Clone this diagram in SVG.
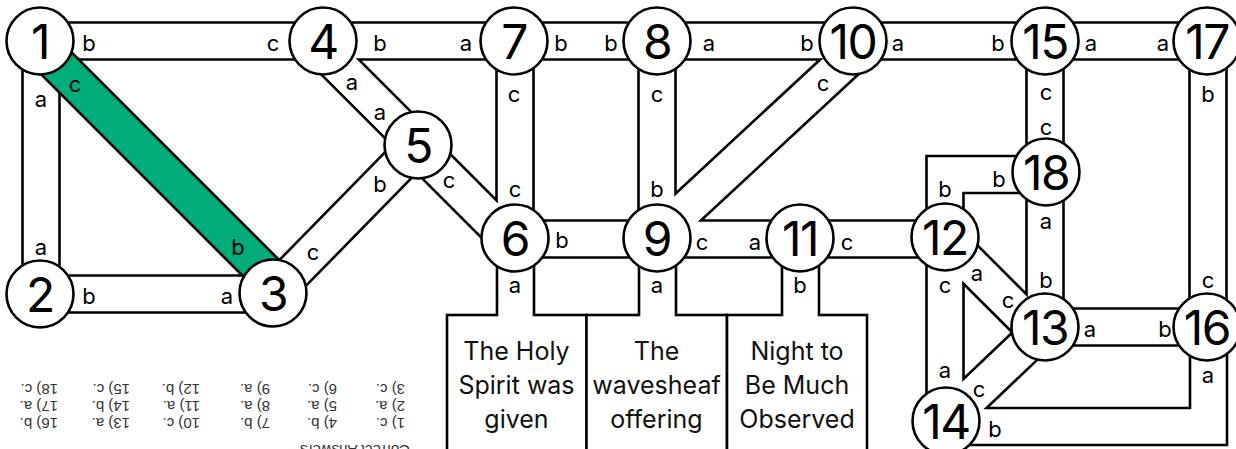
<svg xmlns="http://www.w3.org/2000/svg" width="1236" height="449" viewBox="0 0 1236 449">
<style>
.bo{fill:none;stroke:#000;stroke-width:39.6;stroke-linejoin:miter;stroke-linecap:butt}
.bi{fill:none;stroke:#fff;stroke-width:34.4;stroke-linejoin:miter;stroke-linecap:butt}
.bg{fill:none;stroke:#00ad79;stroke-width:34.4;stroke-linecap:butt}
.nc{fill:#fff;stroke:#000;stroke-width:2.6}
.nt{font-family:Inter,"Liberation Sans",sans-serif;font-size:48px;fill:#000;text-anchor:middle;letter-spacing:-1.5px}
.lb{font-family:Inter,"Liberation Sans",sans-serif;font-size:22px;fill:#000;text-anchor:middle}
.bx{fill:#fff;stroke:#000;stroke-width:2.6}
.bt{font-family:Inter,"Liberation Sans",sans-serif;font-size:25px;fill:#111;text-anchor:middle}
.ak{font-family:"Liberation Sans",Arial,sans-serif;font-size:15px;fill:#333}
</style>
<rect width="1236" height="449" fill="#fff"/>

<g id="answer-key" transform="rotate(180 216 410)">
<text class="ak" x="22" y="375">Correct Answers</text>
<text class="ak" x="27" y="402">1) c.</text><text class="ak" x="95" y="402">4) b.</text><text class="ak" x="162" y="402">7) b.</text><text class="ak" x="232" y="402">10) c.</text><text class="ak" x="302" y="402">13) a.</text><text class="ak" x="374" y="402">16) b.</text>
<text class="ak" x="27" y="419">2) a.</text><text class="ak" x="95" y="419">5) a.</text><text class="ak" x="162" y="419">8) a.</text><text class="ak" x="232" y="419">11) a.</text><text class="ak" x="302" y="419">14) b.</text><text class="ak" x="374" y="419">17) a.</text>
<text class="ak" x="27" y="436">3) c.</text><text class="ak" x="95" y="436">6) c.</text><text class="ak" x="162" y="436">9) a.</text><text class="ak" x="232" y="436">12) b.</text><text class="ak" x="302" y="436">15) c.</text><text class="ak" x="374" y="436">18) c.</text>
</g>

<g id="box-holy-spirit"><rect class="bx" x="447" y="315" width="139.5" height="150"/>
<text class="bt" x="516.5" y="360">The Holy</text><text class="bt" x="516.5" y="394">Spirit was</text><text class="bt" x="516.5" y="428">given</text></g>
<g id="box-wavesheaf"><rect class="bx" x="586.5" y="315" width="140.5" height="150"/>
<text class="bt" x="656.5" y="360">The</text><text class="bt" x="656.5" y="394">wavesheaf</text><text class="bt" x="656.5" y="428">offering</text></g>
<g id="box-night"><rect class="bx" x="727" y="315" width="140" height="150"/>
<text class="bt" x="797" y="360">Night to</text><text class="bt" x="797" y="394">Be Much</text><text class="bt" x="797" y="428">Observed</text></g>

<g id="connectors">
<defs>
<path id="e" d="M40 41H1207M41 41V294M40 294H273M273 293L418 145M316 43L418 145M417 147L509 239M515 41V239M657 41V239M515 239H945M657 236L850 57M1045 41V327M945 239V174.5H1046M945 239V421M945 239L1036 330M1045 327L946 421M1045 327H1207M1208 41V327M946 426.5H1208.5V327"/>
<path id="s" d="M515.5 239V316M657.5 239V316M800.5 239V316"/>
<path id="si" d="M515.5 239V318M657.5 239V318M800.5 239V318"/>
<path id="g" d="M38 45L272 279"/>
</defs>
<use href="#e" class="bo"/><use href="#s" class="bo"/>
<use href="#e" class="bi"/><use href="#si" class="bi"/>
<use href="#g" class="bo"/><use href="#g" class="bg"/>
<g id="edge-labels">
<text class="lb" x="89" y="51">b</text><text class="lb" x="273" y="51">c</text>
<text class="lb" x="380" y="51">b</text><text class="lb" x="466" y="51">a</text>
<text class="lb" x="561" y="51">b</text><text class="lb" x="611" y="51">b</text>
<text class="lb" x="709" y="51">a</text><text class="lb" x="807" y="51">b</text>
<text class="lb" x="898" y="51">a</text><text class="lb" x="998" y="51">b</text>
<text class="lb" x="1091" y="51">a</text><text class="lb" x="1163" y="51">a</text>
<text class="lb" x="41" y="107">a</text><text class="lb" x="41" y="255">a</text>
<text class="lb" x="75" y="92">c</text><text class="lb" x="238" y="255">b</text>
<text class="lb" x="89" y="304">b</text><text class="lb" x="227" y="304">a</text>
<text class="lb" x="313" y="260">c</text><text class="lb" x="380" y="192">b</text>
<text class="lb" x="352" y="90">a</text><text class="lb" x="380" y="120">a</text>
<text class="lb" x="449" y="188">c</text>
<text class="lb" x="514" y="102">c</text><text class="lb" x="515" y="197">c</text>
<text class="lb" x="657" y="102">c</text><text class="lb" x="657" y="197">b</text>
<text class="lb" x="562" y="248">b</text>
<text class="lb" x="702" y="250">c</text><text class="lb" x="755" y="250">a</text>
<text class="lb" x="847" y="250">c</text>
<text class="lb" x="823" y="91">c</text>
<text class="lb" x="515" y="293">a</text><text class="lb" x="657" y="293">a</text><text class="lb" x="800" y="293">b</text>
<text class="lb" x="1046" y="100">c</text><text class="lb" x="1046" y="135">c</text>
<text class="lb" x="1046" y="229">a</text><text class="lb" x="1046" y="288">b</text>
<text class="lb" x="1208" y="102">b</text><text class="lb" x="1208" y="288">c</text>
<text class="lb" x="945" y="197">b</text><text class="lb" x="999" y="187">b</text>
<text class="lb" x="945" y="293">c</text><text class="lb" x="945" y="378">a</text>
<text class="lb" x="977" y="281">a</text><text class="lb" x="1008" y="308">c</text>
<text class="lb" x="979" y="397">c</text>
<text class="lb" x="1090" y="337">a</text><text class="lb" x="1165" y="337">b</text>
<text class="lb" x="1208" y="383">a</text><text class="lb" x="995" y="437">b</text>
</g>
</g>

<g id="node-1"><circle class="nc" cx="40" cy="41" r="33.5"/><text class="nt" x="40" y="59">1</text></g>
<g id="node-2"><circle class="nc" cx="40" cy="294" r="33.5"/><text class="nt" x="40" y="312">2</text></g>
<g id="node-3"><circle class="nc" cx="273" cy="293" r="33.5"/><text class="nt" x="273" y="311">3</text></g>
<g id="node-4"><circle class="nc" cx="323" cy="41" r="33.5"/><text class="nt" x="323" y="59">4</text></g>
<g id="node-5"><circle class="nc" cx="418" cy="145" r="33.5"/><text class="nt" x="418" y="163">5</text></g>
<g id="node-6"><circle class="nc" cx="515" cy="238" r="33.5"/><text class="nt" x="515" y="256">6</text></g>
<g id="node-7"><circle class="nc" cx="514" cy="41" r="33.5"/><text class="nt" x="514" y="59">7</text></g>
<g id="node-8"><circle class="nc" cx="657" cy="41" r="33.5"/><text class="nt" x="657" y="59">8</text></g>
<g id="node-9"><circle class="nc" cx="657" cy="238" r="33.5"/><text class="nt" x="657" y="256">9</text></g>
<g id="node-10"><circle class="nc" cx="853" cy="41" r="33.5"/><text class="nt" x="853" y="59">10</text></g>
<g id="node-11"><circle class="nc" cx="800" cy="238" r="33.5"/><text class="nt" x="800" y="256">11</text></g>
<g id="node-12"><circle class="nc" cx="945" cy="237" r="33.5"/><text class="nt" x="945" y="255">12</text></g>
<g id="node-13"><circle class="nc" cx="1045" cy="327" r="33.5"/><text class="nt" x="1045" y="345">13</text></g>
<g id="node-14"><circle class="nc" cx="946" cy="421" r="33.5"/><text class="nt" x="946" y="439">14</text></g>
<g id="node-15"><circle class="nc" cx="1045" cy="41" r="33.5"/><text class="nt" x="1045" y="59">15</text></g>
<g id="node-16"><circle class="nc" cx="1207" cy="327" r="33.5"/><text class="nt" x="1207" y="345">16</text></g>
<g id="node-17"><circle class="nc" cx="1207" cy="41" r="33.5"/><text class="nt" x="1207" y="59">17</text></g>
<g id="node-18"><circle class="nc" cx="1046" cy="172" r="33.5"/><text class="nt" x="1046" y="190">18</text></g>
</svg>
